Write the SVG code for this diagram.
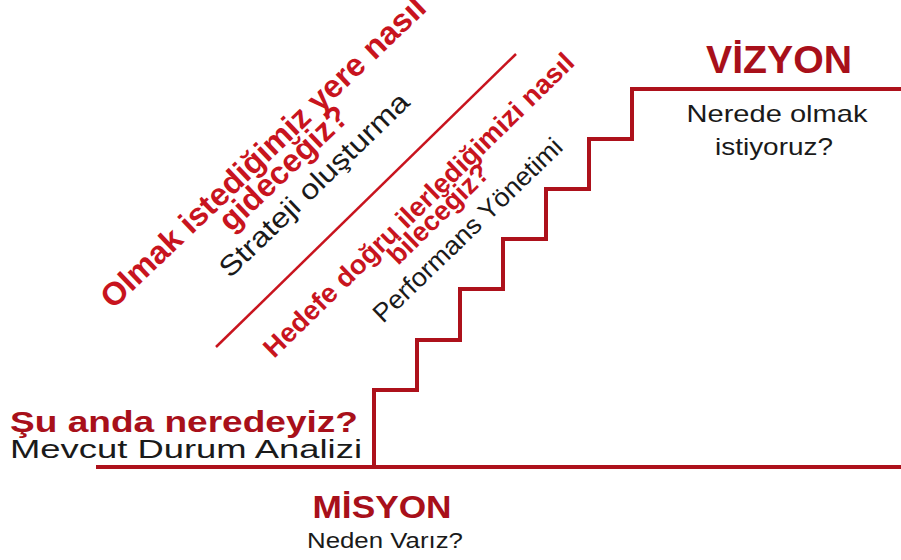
<svg xmlns="http://www.w3.org/2000/svg" width="901" height="560" viewBox="0 0 901 560">
  <style>
    .t { font-family: "Liberation Sans", Arial, sans-serif; }
    .b { font-weight: bold; }
    .red { fill: #c8141e; }
    .dred { fill: #a8101a; }
    .blk { fill: #1a1a1a; }
    .stair { fill: none; stroke: #ad111b; stroke-width: 4; stroke-linejoin: miter; }
  </style>
  <rect width="901" height="560" fill="#ffffff"/>

  <g id="connectors">
    <path class="stair" d="M96,467 H901"/>
    <path class="stair" d="M374,467 V390 H417 V340 H460 V289 H503 V239 H546 V189 H589 V139 H632 V89 H901"/>
    <line x1="216" y1="347" x2="516" y2="54" stroke="#c8141e" stroke-width="2.5"/>
  </g>

  <g id="vizyon">
    <text class="t b dred" x="779" y="73" font-size="38" text-anchor="middle" textLength="146" lengthAdjust="spacingAndGlyphs">VİZYON</text>
    <text class="t blk" x="777" y="122" font-size="24" text-anchor="middle" textLength="181" lengthAdjust="spacingAndGlyphs">Nerede olmak</text>
    <text class="t blk" x="774" y="155" font-size="24" text-anchor="middle" textLength="118" lengthAdjust="spacingAndGlyphs">istiyoruz?</text>
  </g>

  <g id="misyon">
    <text class="t b dred" x="382" y="518" font-size="32" text-anchor="middle" textLength="139" lengthAdjust="spacingAndGlyphs">MİSYON</text>
    <text class="t blk" x="385" y="548" font-size="22" text-anchor="middle" textLength="156" lengthAdjust="spacingAndGlyphs">Neden Varız?</text>
  </g>

  <g id="mevcut">
    <text class="t b dred" x="10" y="432" font-size="29" textLength="348" lengthAdjust="spacingAndGlyphs">Şu anda neredeyiz?</text>
    <text class="t blk" x="10" y="458" font-size="25" textLength="352" lengthAdjust="spacingAndGlyphs">Mevcut Durum Analizi</text>
  </g>

  <g id="strateji">
    <text class="t b red" font-size="32" transform="translate(113,310) rotate(-43.6)" textLength="435" lengthAdjust="spacingAndGlyphs">Olmak istediğimiz yere nasıl</text>
    <text class="t b red" font-size="32" transform="translate(231,233) rotate(-43.6)">gideceğiz?</text>
    <text class="t blk" font-size="28" transform="translate(230,279) rotate(-44)" textLength="252" lengthAdjust="spacingAndGlyphs">Strateji oluşturma</text>
  </g>

  <g id="performans">
    <text class="t b red" font-size="27" transform="translate(274,359) rotate(-44.3)" textLength="422" lengthAdjust="spacingAndGlyphs">Hedefe doğru ilerlediğimizi nasıl</text>
    <text class="t b red" font-size="27" transform="translate(398,266) rotate(-44.3)">bileceğiz?</text>
    <text class="t blk" font-size="26" transform="translate(383,324) rotate(-44)" textLength="252" lengthAdjust="spacingAndGlyphs">Performans Yönetimi</text>
  </g>
</svg>
